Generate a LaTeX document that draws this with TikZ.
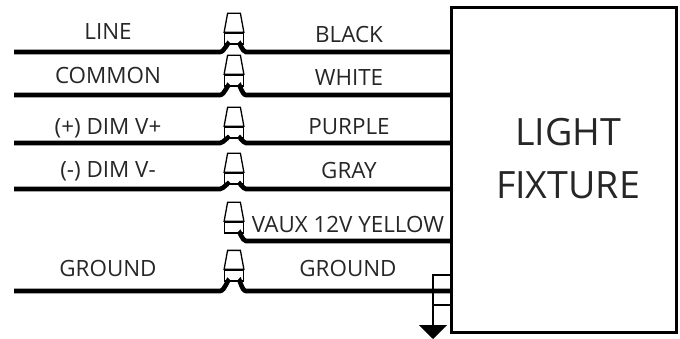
\documentclass[tikz,border=0pt]{standalone}
\usepackage{fontspec}
\setmainfont{Open Sans}
\usetikzlibrary{arrows.meta, calc, positioning}
\tikzset{
  wire/.style={line width=4.6pt},
  nutband/.style={draw, line width=1.3pt, fill=white, minimum width=18.5pt, minimum height=11pt, inner sep=0pt},
  nutcap/.style={draw, line width=1.3pt, fill=white},
  label/.style={font=\fontsize{22.4pt}{26pt}\selectfont, text=black!85, inner sep=0pt},
  fixture/.style={draw, line width=3.2pt, minimum width=225pt, minimum height=325pt},
  fixturetext/.style={align=center, inner sep=0pt, font=\fontsize{37.6pt}{53pt}\selectfont, text=black!85}
}
\newcommand{\wirenut}[1]{
  \draw[nutcap] (#1.north west) -- ($(#1.north west)+(3.5,-19)$) -- ($(#1.north east)+(-3.5,-19)$) -- (#1.north east) -- cycle;
}
\begin{document}
\begin{tikzpicture}[x=1pt,y=-1pt]
    \useasboundingbox (0,0) rectangle (680,339);
    \node[fixture] (F) at (564,170) {};
    \node[fixturetext] (FT) at (568,159) {LIGHT\\FIXTURE};

    \node[nutband] (N1) at (234,38.5) {};
    \node[nutband] (N2) at (234,80.5) {};
    \node[nutband] (N3) at (234,132.5) {};
    \node[nutband] (N4) at (234,178.5) {};
    \node[nutband] (N5) at (234,227.5) {};
    \node[nutband] (N6) at (234,275.5) {};

    \coordinate (A1) at (14,52);
    \coordinate (A2) at (14,95);
    \coordinate (A3) at (14,143);
    \coordinate (A4) at (14,189);
    \coordinate (A6) at (14,291);
    \coordinate (B1) at (450,52);
    \coordinate (B2) at (450,95);
    \coordinate (B3) at (450,143);
    \coordinate (B4) at (450,189);
    \coordinate (B5) at (450,241);
    \coordinate (B6) at (450,291);

    \foreach \n in {1,2,3,4,6} {
      \draw[wire] (A\n) -- ($(A\n)+(206,0)$) to[out=0,in=90] ($(N\n.south west)+(4.5,0)$);
    }
    \foreach \n in {1,2,3,4,5,6} {
      \draw[wire] (B\n) -- ($(B\n)+(-204,0)$) to[out=180,in=90] ($(N\n.south east)+(-4.5,0)$);
      \wirenut{N\n}
    }

    \node[label] (L1) at (108,32) {LINE};
    \node[label] (L2) at (108,75) {COMMON};
    \node[label] (L3) at (108,128) {(+) DIM V+};
    \node[label] (L4) at (108,171) {(-) DIM V-};
    \node[label] (L6) at (108,268) {GROUND};
    \node[label] (R1) at (349,35) {BLACK};
    \node[label] (R2) at (349,78) {WHITE};
    \node[label] (R3) at (349,127) {PURPLE};
    \node[label] (R4) at (349,171) {GRAY};
    \node[label] (R5) at (348,224) {VAUX 12V YELLOW};
    \node[label] (R6) at (348,268) {GROUND};

    % ground symbol
    \coordinate (G1) at (450,275);
    \coordinate (G2) at (450,305);
    \coordinate (G3) at (433,275);
    \coordinate (G4) at (433,305);
    \coordinate (G5) at (433,339);
    \draw[line width=1.6pt, -{Triangle[width=28pt,length=14pt]}] (G1) -- (G3) -- (G5);
    \draw[line width=1.6pt] (G2) -- (G4);
\end{tikzpicture}
\end{document}
